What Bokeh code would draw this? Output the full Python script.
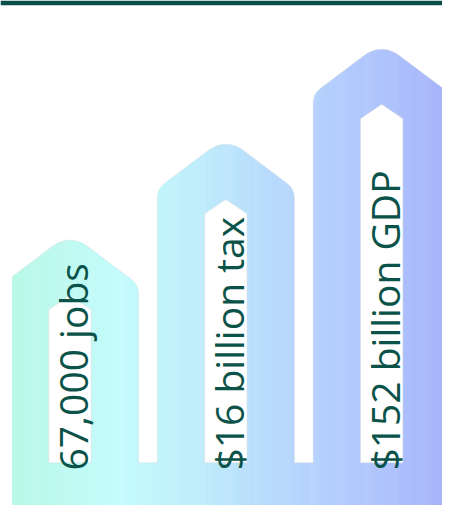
import math
from bokeh.plotting import figure
from bokeh.models import Range1d
from bokeh.core.properties import value
from bokeh.embed import file_html
from bokeh.resources import INLINE

# ---- data ----
categories = ["jobs", "tax", "GDP"]
labels = ["67,000 jobs", "$16 billion tax", "$152 billion GDP"]
tip_heights = [281, 380, 478]      # height of each arrow tip above the bottom edge (chart units)

# ---- layout constants (chart units == reference pixels) ----
W, H = 458, 521
LEFT_CLIP = 12
BASE_TOP = 44            # height of shared base band
FIRST_CENTER, SPACING = 72, 161.5
HALF_W, SLOPE = 71, 0.75
INNER_HALF_W, INNER_DROP, INNER_SHOULDER = 22, 64, 15
PEAK_R, SHOULDER_R = 24, 10

TEXT_COLOR = "#0b5249"
BAR_COLOR = "#0a4f49"
STOPS = [(12, (0xb9, 0xf8, 0xe6)), (125, (0xc4, 0xfb, 0xfc)), (200, (0xbf, 0xee, 0xfb)),
         (267, (0xb9, 0xdd, 0xfc)), (333, (0xb5, 0xd0, 0xfd)), (400, (0xae, 0xc2, 0xfc)),
         (458, (0xa7, 0xb5, 0xfb))]


def grad(x):
    for (x0, c0), (x1, c1) in zip(STOPS[:-1], STOPS[1:]):
        if x <= x1:
            t = max(0.0, min(1.0, (x - x0) / (x1 - x0)))
            c = [round(a + (b - a) * t) for a, b in zip(c0, c1)]
            return "#%02x%02x%02x" % tuple(c)
    return "#%02x%02x%02x" % STOPS[-1][1]


def rounded(pts, radii, n=10):
    out = []
    m = len(pts)
    for i, (v, r) in enumerate(zip(pts, radii)):
        if r <= 0:
            out.append(v)
            continue
        p, q = pts[i - 1], pts[(i + 1) % m]
        def cut(a):
            dx, dy = a[0] - v[0], a[1] - v[1]
            L = math.hypot(dx, dy)
            return (v[0] + r * dx / L, v[1] + r * dy / L)
        a, b = cut(p), cut(q)
        for k in range(n + 1):
            t = k / n
            x = (1 - t) ** 2 * a[0] + 2 * (1 - t) * t * v[0] + t ** 2 * b[0]
            y = (1 - t) ** 2 * a[1] + 2 * (1 - t) * t * v[1] + t ** 2 * b[1]
            out.append((x, y))
    return out


# geometry in "down" coordinates (0 at top), converted later
centers = [FIRST_CENTER + i * SPACING for i in range(len(categories))]
tips = [H - h for h in tip_heights]
base_y = H - BASE_TOP

outline, radii = [], []
outline.append((LEFT_CLIP, 0)); radii.append(0)
for i, (c, t) in enumerate(zip(centers, tips)):
    l, r = c - HALF_W, c + HALF_W
    sh = t + HALF_W * SLOPE
    if l < LEFT_CLIP:
        outline.append((LEFT_CLIP, t + (c - LEFT_CLIP) * SLOPE)); radii.append(0)
    else:
        outline.append((l, base_y)); radii.append(0)
        outline.append((l, sh)); radii.append(SHOULDER_R)
    outline.append((c, t)); radii.append(PEAK_R)
    if r > W:
        outline.append((W, t + (W - c) * SLOPE)); radii.append(0)
    else:
        outline.append((r, sh)); radii.append(SHOULDER_R)
        outline.append((r, base_y)); radii.append(0)
outline.append((W, 0)); radii.append(0)
sky = rounded(outline, radii)

p = figure(width=442, height=505, x_range=Range1d(0, W), y_range=Range1d(0, H),
           output_backend="svg", toolbar_location=None, min_border=0,
           background_fill_color="white", border_fill_color="white",
           outline_line_color=None)
p.axis.visible = False
p.grid.visible = False

# gradient strips
step = 1.0
xs = []
x = LEFT_CLIP
while x < W:
    xs.append(x)
    x += step
p.quad(left=xs, right=[min(W, a + step + 0.6) for a in xs], bottom=[0] * len(xs),
       top=[H - 5] * len(xs), fill_color=[grad(a + step / 2) for a in xs], line_color=None)

# white sky mask above the arrows
p.patch([pt[0] for pt in sky], [H - pt[1] for pt in sky], fill_color="white", line_color=None)
edge = sky[1:-1]
p.line([pt[0] for pt in edge], [H - pt[1] for pt in edge], line_color="#d3dbe3",
       line_width=0.8, line_alpha=0.6)

# inner white arrows
ixs, iys = [], []
for c, t in zip(centers, tips):
    it = t + INNER_DROP
    pts = [(c - INNER_HALF_W, base_y), (c - INNER_HALF_W, it + INNER_SHOULDER), (c, it),
           (c + INNER_HALF_W, it + INNER_SHOULDER), (c + INNER_HALF_W, base_y)]
    ixs.append([a for a, _ in pts])
    iys.append([H - b for _, b in pts])
p.patches(ixs, iys, fill_color="white", line_color="#d3dbe3", line_width=0.8, line_alpha=0.7)

# labels
p.text(x=[c + 3 for c in centers], y=[BASE_TOP - 8] * len(centers), text=labels,
       angle=math.pi / 2, text_align="left", text_baseline="alphabetic",
       text_font=value("Open Sans"), text_font_size="39px", text_color=TEXT_COLOR)

# top bar
p.quad(left=[0], right=[W], bottom=[H - 5], top=[H], fill_color=BAR_COLOR, line_color=None)

open("out.html", "w").write(file_html(p, INLINE))
